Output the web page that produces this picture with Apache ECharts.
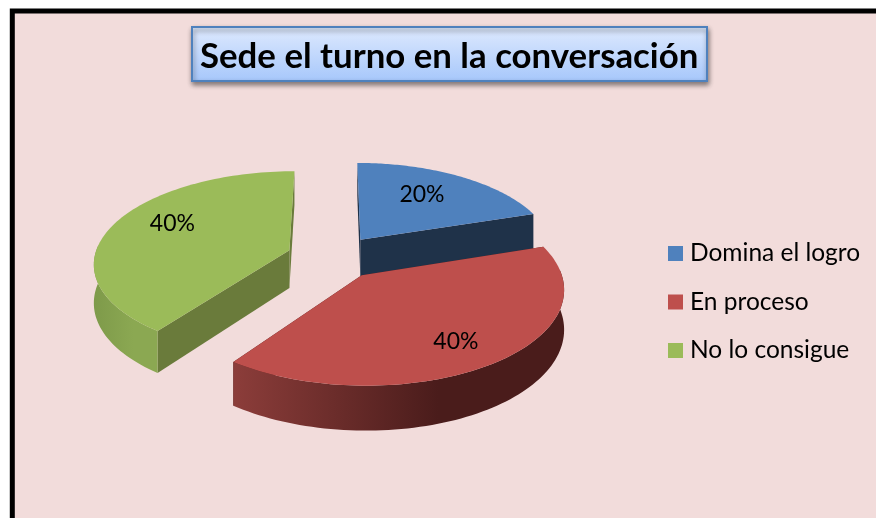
<!DOCTYPE html>
<html>
<head>
<meta charset="utf-8">
<style>html,body{margin:0;padding:0;background:#fff;overflow:hidden}#c{width:876px;height:518px}</style>
<script src="https://cdn.jsdelivr.net/npm/echarts@6/dist/echarts.min.js"></script>
</head>
<body>
<div id="c"></div>
<script>
var titleText = 'Sede el turno en la conversación';
var categories = ['Domina el logro', 'En proceso', 'No lo consigue'];
var values = [20, 40, 40];
var topColors = ['#4F81BD', '#BE4F4C', '#9BBB59'];
var faceColors = ['#1F3249', '#4A1D1C', '#6A7B3B'];
var wallLeftColors = ['#1F3249', '#8C3D3A', '#7E9A4A'];
var wallRightColors = ['#1F3249', '#4A1C1B', '#8BA852'];
var labelRadius = [0.60, 0.72, 0.66];
var labelDrop = [-6, 6, -9];
var paintOrder = [0, 2, 1];

var VIEW = {vx: 333.5, hy: -443, C: 700, H: 38, A: 195, p: 0.13, explode: 0.24};
var total = values.reduce(function (a, b) { return a + b; }, 0);
var starts = [];
values.reduce(function (acc, v, i) { starts[i] = acc; return acc + v; }, 0);

function project(X, Z, low) {
  var w = 1 + VIEW.p * Z;
  return [VIEW.vx + VIEW.A * X / w, VIEW.hy + (VIEW.C + (low ? VIEW.H : 0)) / w];
}
function sliceGeom(i) {
  var a0 = starts[i] / total * 2 * Math.PI;
  var a1 = (starts[i] + values[i]) / total * 2 * Math.PI;
  var mid = (a0 + a1) / 2;
  return {a0: a0, a1: a1, mid: mid, ox: VIEW.explode * Math.sin(mid), oz: VIEW.explode * Math.cos(mid)};
}
function rim(g, a, low) {
  return project(g.ox + Math.sin(a), g.oz + Math.cos(a), low);
}
function renderSlice(i) {
  var g = sliceGeom(i);
  var N = 90, apexT = project(g.ox, g.oz, false), apexB = project(g.ox, g.oz, true);
  var children = [];
  function face(a) {
    var p = rim(g, a, false), q = rim(g, a, true);
    children.push({type: 'polygon', shape: {points: [apexT, p, q, apexB]},
      style: {fill: faceColors[i]}});
  }
  face(g.a0);
  face(g.a1);
  // outer wall: only the part of the rim facing the viewer
  var pts = [], k, a, lowPts = [];
  for (k = 0; k <= N; k++) {
    a = g.a0 + (g.a1 - g.a0) * k / N;
    if (Math.cos(a) < 0.08) {
      pts.push(rim(g, a, false)); lowPts.unshift(rim(g, a, true));
    }
  }
  if (pts.length) {
    children.push({type: 'polygon', shape: {points: pts.concat(lowPts)},
      style: {fill: new echarts.graphic.LinearGradient(0, 0, 1, 0, [
        {offset: 0, color: wallLeftColors[i]},
        {offset: 0.62, color: wallRightColors[i]},
        {offset: 1, color: wallRightColors[i]}])}});
  }
  var top = [apexT];
  for (k = 0; k <= N; k++) top.push(rim(g, g.a0 + (g.a1 - g.a0) * k / N, false));
  children.push({type: 'polygon', shape: {points: top}, style: {fill: topColors[i]}});
  var lp = project(g.ox + labelRadius[i] * Math.sin(g.mid), g.oz + labelRadius[i] * Math.cos(g.mid), false);
  children.push({type: 'text', x: lp[0], y: lp[1] + labelDrop[i], style: {
    text: Math.round(values[i] / total * 100) + '%', fill: '#000',
    font: '23px Lato', align: 'center', verticalAlign: 'middle'}});
  return {type: 'group', children: children};
}

var chart = echarts.init(document.getElementById('c'), null, {renderer: 'canvas'});
chart.setOption({
  animation: false,
  backgroundColor: '#fff',
  color: topColors,
  title: {
    text: titleText, left: 191.5, top: 27, padding: [12, 9, 7, 8.5],
    textStyle: {fontFamily: 'Lato', fontWeight: 'bold', fontSize: 34.8, color: '#000'},
    borderColor: '#4F81BD', borderWidth: 2,
    backgroundColor: new echarts.graphic.LinearGradient(0, 0, 0, 1, [
      {offset: 0, color: '#DFEAFE'}, {offset: 1, color: '#A6C7FB'}]),
    shadowColor: 'rgba(0,0,0,0.45)', shadowBlur: 5, shadowOffsetX: 1, shadowOffsetY: 3
  },
  legend: {
    data: categories, orient: 'vertical', left: 668, top: 241, padding: 0,
    icon: 'rect', itemWidth: 15, itemHeight: 15, itemGap: 23.5,
    textStyle: {fontFamily: 'Lato', fontSize: 24.5, lineHeight: 15, color: '#000', padding: [0, 0, 0, 2]},
    selectedMode: false
  },
  graphic: [
    {type: 'rect', z: -10, shape: {x: 12.3, y: 11, width: 1000, height: 1000},
      style: {fill: '#F2DCDB', stroke: '#000', lineWidth: 5}}
  ],
  series: paintOrder.map(function (i) {
    return {
      type: 'custom', name: categories[i], coordinateSystem: 'none',
      itemStyle: {color: topColors[i]},
      data: [values[i]], silent: true, clip: false, z: paintOrder.indexOf(i) + 2,
      renderItem: function () { return renderSlice(i); }
    };
  })
});
</script>
</body>
</html>
